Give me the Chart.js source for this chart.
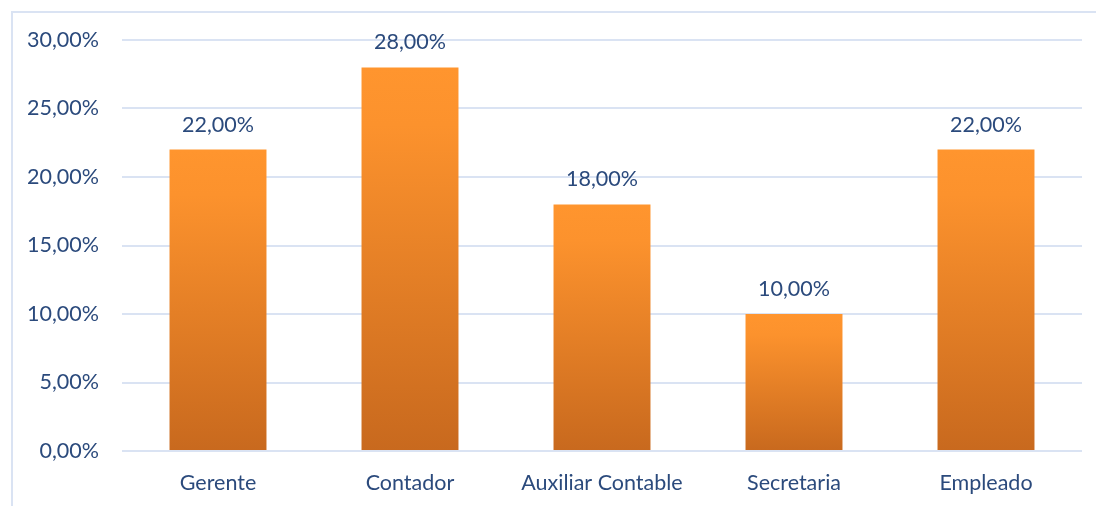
<!DOCTYPE html>
<html>
<head>
<meta charset="utf-8">
<script src="https://cdn.jsdelivr.net/npm/chart.js@4"></script>
<style>
  body { margin: 0; background: #fff; overflow: hidden; }
  #frame { position: absolute; left: 11px; top: 11px; width: 1200px; height: 600px; border: 2px solid #DAE3F3; }
  #wrap { position: absolute; left: 0; top: 0; width: 1096px; height: 506px; }
</style>
</head>
<body>
<div id="frame"></div>
<div id="wrap"><canvas id="myChart" width="1096" height="506"></canvas></div>
<script>
// values
const categories = ['Gerente', 'Contador', 'Auxiliar Contable', 'Secretaria', 'Empleado'];
const values = [22, 28, 18, 10, 22];
const yTicks = [0, 5, 10, 15, 20, 25, 30];

const textColor = '#2B4A7C';
const font = 'Lato, "Open Sans", sans-serif';

function fmt(v) {
    return v.toFixed(2).replace('.', ',') + '%';
}

// gradient per bar, light on top and darker at the base
function barGradient(context) {
    const chart = context.chart;
    if (!chart.chartArea) return '#F08A2A';
    const y = chart.scales.y;
    const top = y.getPixelForValue(context.raw);
    const bottom = y.getPixelForValue(0);
    const g = chart.ctx.createLinearGradient(0, top, 0, bottom);
    g.addColorStop(0, '#FF952E');
    g.addColorStop(0.15, '#FC922D');
    g.addColorStop(1, '#C8691E');
    return g;
}

const valueLabels = {
    id: 'valueLabels',
    afterDatasetsDraw(chart) {
        const ctx = chart.ctx;
        const meta = chart.getDatasetMeta(0);
        ctx.save();
        ctx.fillStyle = textColor;
        ctx.font = '21.5px ' + font;
        ctx.textAlign = 'center';
        ctx.textBaseline = 'middle';
        meta.data.forEach((bar, i) => {
            ctx.fillText(fmt(values[i]), bar.x, bar.y - 25);
        });
        ctx.restore();
    }
};

const ctx = document.getElementById('myChart');
const myChart = new Chart(ctx, {
    type: 'bar',
    data: {
        labels: categories,
        datasets: [{
            data: values,
            backgroundColor: barGradient,
            borderWidth: 0,
            categoryPercentage: 1,
            barPercentage: 0.505
        }]
    },
    options: {
        responsive: false,
        animation: false,
        layout: { padding: { top: 40, right: 14, left: 0, bottom: 0 } },
        scales: {
            x: {
                grid: { display: false },
                border: { display: false },
                ticks: {
                    color: textColor,
                    font: { family: font, size: 21.5 },
                    padding: 11,
                    maxRotation: 0
                },
                afterFit(scale) { scale.height = 55; }
            },
            y: {
                min: 0,
                max: 30,
                afterBuildTicks(scale) { scale.ticks = yTicks.map(v => ({ value: v })); },
                grid: { color: '#DAE3F3', lineWidth: 2, drawTicks: false },
                border: { display: false },
                ticks: {
                    color: textColor,
                    font: { family: font, size: 21.5 },
                    padding: 23,
                    callback: v => fmt(v)
                },
                afterFit(scale) { scale.width = 122; }
            }
        },
        plugins: {
            legend: { display: false },
            tooltip: { enabled: false }
        }
    },
    plugins: [valueLabels]
});
</script>
</body>
</html>
